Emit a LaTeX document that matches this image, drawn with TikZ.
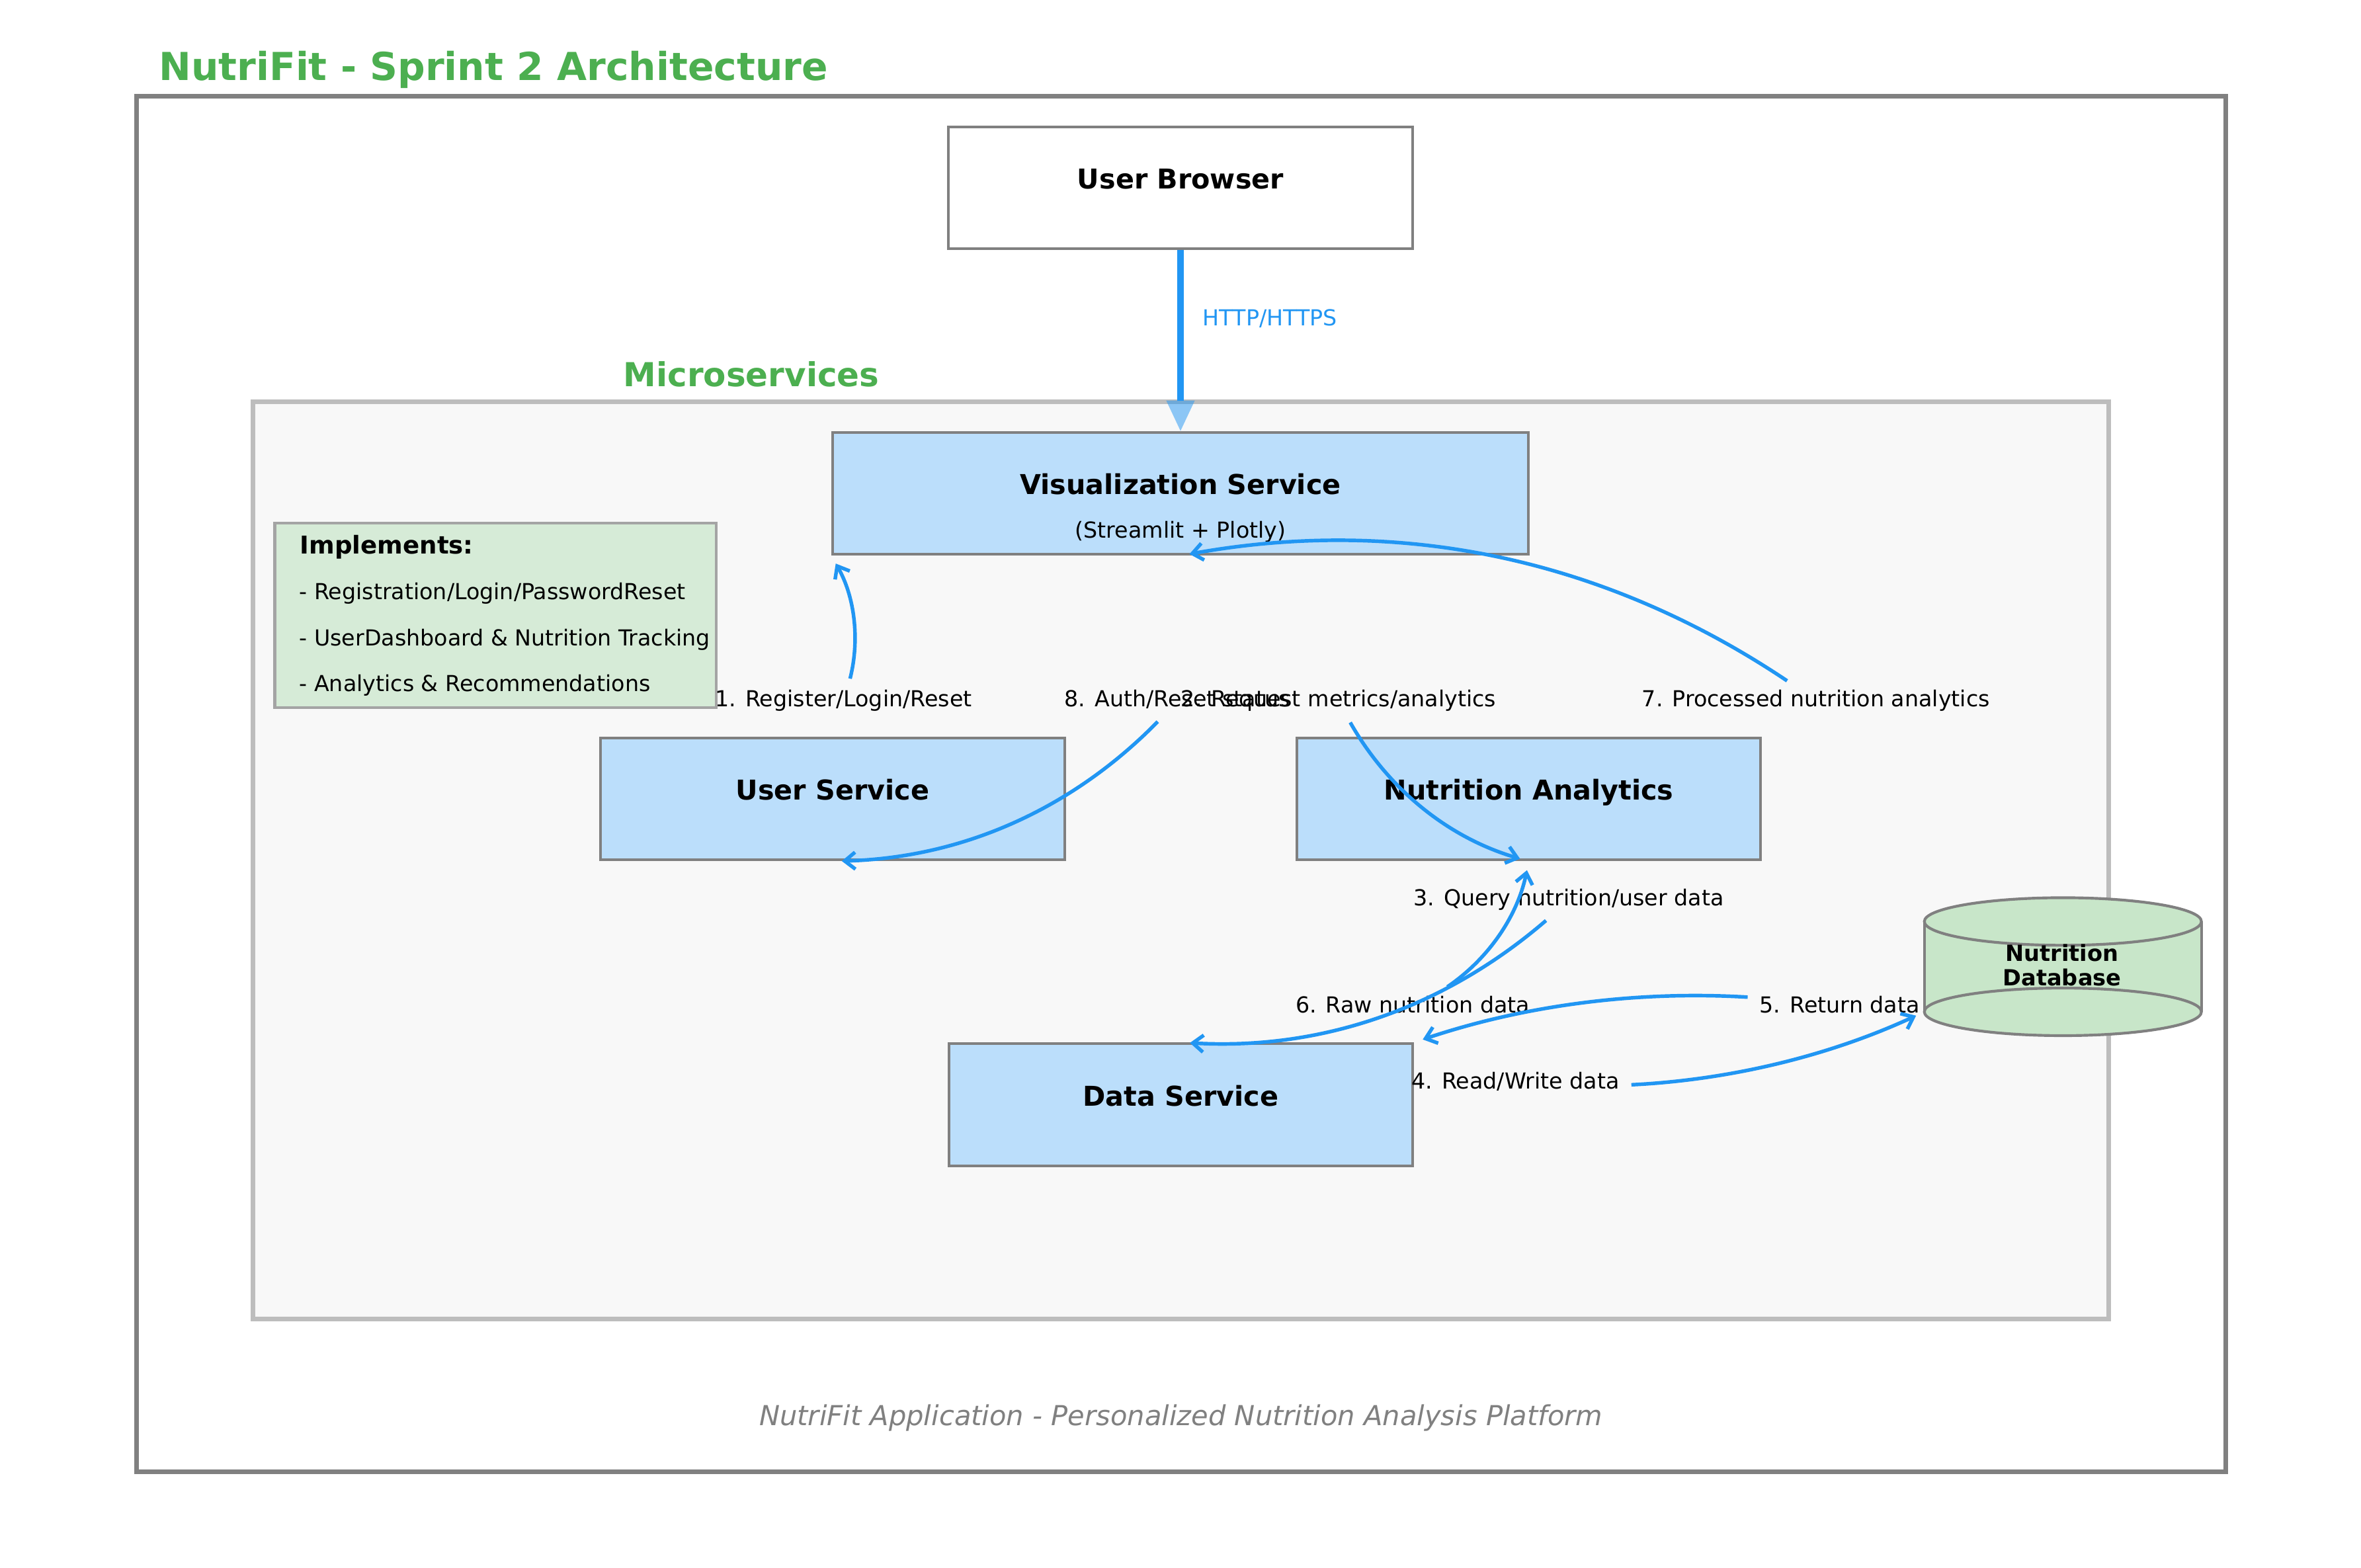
\documentclass[tikz,border=0pt]{standalone}
\usepackage{fontspec}
\setmainfont{DejaVu Sans}
\usetikzlibrary{arrows.meta, calc}

\definecolor{nfgreen}{HTML}{4CAF50}
\definecolor{nfblue}{HTML}{2196F3}
\definecolor{svcfill}{HTML}{BBDEFB}
\definecolor{edgegray}{HTML}{808080}
\definecolor{framegray}{HTML}{BDBDBD}
\definecolor{framefill}{HTML}{F8F8F8}
\definecolor{notefill}{HTML}{D6EBD7}
\definecolor{noteedge}{HTML}{A4A4A4}
\definecolor{dbfill}{HTML}{C8E6C9}

\tikzset{
  svcbox/.style={draw=edgegray, fill=svcfill, line width=1.3pt, minimum width=7.7cm, minimum height=2.025cm, inner sep=0pt},
  svctitle/.style={anchor=base, inner sep=0pt, font=\fontsize{12.9}{15}\selectfont\bfseries},
  flowlabel/.style={anchor=base, inner sep=3pt, text height=0.76em, text depth=0.21em, font=\fontsize{10.4}{12}\selectfont},
  noteline/.style={anchor=base west, inner sep=0pt, font=\fontsize{10.4}{12}\selectfont},
  flow/.style={nfblue, line width=1.7pt, -{Straight Barb[length=5pt, width=8pt]}, shorten <=2.5pt, shorten >=4.3pt},
}

\begin{document}
\begin{tikzpicture}[x=0.025cm, y=-0.025cm]
\useasboundingbox (0,0) rectangle (1568,1041);
\fill[white] (0,0) rectangle (1568,1041);

% frames
\draw[edgegray, line width=2.2pt, fill=white] (90.5,64) rectangle (1478,977.3);
\draw[framegray, line width=2.2pt, fill=framefill] (168,267) rectangle (1400.3,875.8);

\node[anchor=base west, inner sep=0pt, text=nfgreen, font=\fontsize{18.2}{22}\selectfont\bfseries] (title) at (105.3,53.4) {NutriFit - Sprint 2 Architecture};
\node[anchor=base, inner sep=0pt, text=nfgreen, font=\fontsize{15.6}{18}\selectfont\bfseries] (msvc) at (499,256.7) {Microservices};

% services
\node[svcbox, fill=white] (ub) at (784,124.8) {};
\node[svcbox, minimum width=11.55cm] (viz) at (784,327.6) {};
\node[svcbox] (us) at (553,530.6) {};
\node[svcbox] (na) at (1015.3,530.6) {};
\node[svcbox] (ds) at (784.2,733.7) {};

\node[svctitle] (ubtxt) at (784,125.5) {User Browser};
\node[svctitle] (viztxt) at (784,328.3) {Visualization Service};
\node[flowlabel] (vizsub) at (784,357.3) {(Streamlit + Plotly)};
\node[svctitle] (ustxt) at (553,531.3) {User Service};
\node[svctitle] (natxt) at (1015.3,531.3) {Nutrition Analytics};
\node[svctitle] (dstxt) at (784.2,734.4) {Data Service};

% implements note
\node[draw=noteedge, fill=notefill, line width=1.3pt, minimum width=7.33cm, minimum height=3.06cm, inner sep=0pt] (impl) at (329.15,408.8) {};
\node[noteline, font=\fontsize{11.6}{14}\selectfont\bfseries] (implhead) at (199,367.8) {Implements:};
\foreach \t [count=\i] in {- Registration/Login/PasswordReset, - UserDashboard \& Nutrition Tracking, - Analytics \& Recommendations}
  \node[noteline] (impl\i) at (198.5,367.8+30.45*\i) {\t};

% database
\fill[dbfill] (1278,612) rectangle (1462,672);
\draw[edgegray, line width=1.3pt] (1278,612) -- (1278,672) (1462,612) -- (1462,672);
\draw[edgegray, line width=1.3pt, fill=dbfill] (1370,672) ellipse [x radius=92, y radius=15.8];
\draw[edgegray, line width=1.3pt, fill=dbfill] (1370,612) ellipse [x radius=92, y radius=15.8];
\coordinate (dbin) at (1278,672);
\node[anchor=base, inner sep=0pt, font=\fontsize{10.5}{12}\selectfont\bfseries] (db) at (1369.5,638.3) {Nutrition};
\node[anchor=base, inner sep=0pt, font=\fontsize{10.5}{12}\selectfont\bfseries] (dbtxt) at (1369.5,654.7) {Database};

% http link
\coordinate (httphead) at (784,266);
\draw[nfblue, line width=3.1pt] (ub.south) -- (httphead);
\fill[nfblue, opacity=0.5] ($(httphead)+(-9.5,0)$) -- ($(httphead)+(9.5,0)$) -- (viz.north) -- cycle;
\node[anchor=base west, inner sep=0pt, text=nfblue, font=\fontsize{10.4}{12}\selectfont] (http) at (798.6,216.1) {HTTP/HTTPS};

% step labels
\node[flowlabel] (l1) at (560.2,469.3) {1. Register/Login/Reset};
\node[flowlabel] (l8) at (781.9,469.3) {8. Auth/Reset status};
\node[flowlabel] (l2) at (889,469.3) {2. Request metrics/analytics};
\node[flowlabel] (l7) at (1206,469.3) {7. Processed nutrition analytics};
\node[flowlabel] (l3) at (1041.9,601.6) {3. Query nutrition/user data};
\node[flowlabel] (l6) at (938.2,672.6) {6. Raw nutrition data};
\node[flowlabel] (l5) at (1221.8,672.6) {5. Return data};
\node[flowlabel] (l4) at (1006.4,723) {4. Read/Write data};

% step arrows
\draw[flow] (l1) to[bend right=22, looseness=0.92] (viz.south west);
\draw[flow] (l2) to[bend right=22, looseness=0.92] (na.south);
\draw[flow] (l3) to[bend left=22, looseness=0.92] (ds.north);
\draw[flow] (l4) to[bend right=11, looseness=0.87] (dbin);
\draw[flow] (l5) to[bend right=11, looseness=0.87] (ds.north east);
\draw[flow] (l6) to[bend right=22, looseness=0.92] (na.south);
\draw[flow] (l7) to[bend right=22, looseness=0.92] (viz.south);
\draw[flow] (l8) to[bend left=22, looseness=0.92] (us.south);

\node[anchor=base, inner sep=0pt, text=edgegray, font=\fontsize{13}{15}\selectfont\itshape] (footer) at (784.3,946.5) {NutriFit Application - Personalized Nutrition Analysis Platform};
\end{tikzpicture}
\end{document}
